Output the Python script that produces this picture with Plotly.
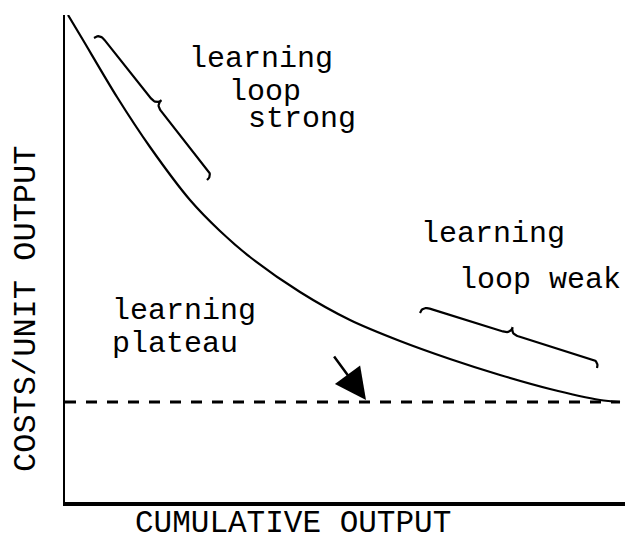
import plotly.graph_objects as go

# learning curve (arbitrary units, no tick labels)
cum_output = [3, 18, 52, 85, 125, 155, 185, 235, 285, 335, 385, 435, 485, 535, 555]
unit_cost = [487, 462, 405, 355, 302, 271, 245, 210, 182, 161, 143, 127, 113, 102, 100]

# learning plateau (dashed level)
plateau_x = [0, 555]
plateau_y = [100, 100]

FONT = "Liberation Mono, Courier New, monospace"


def quad(p0, c, p1, n=10):
    pts = []
    for i in range(n + 1):
        t = i / n
        x = (1 - t) ** 2 * p0[0] + 2 * (1 - t) * t * c[0] + t ** 2 * p1[0]
        y = (1 - t) ** 2 * p0[1] + 2 * (1 - t) * t * c[1] + t ** 2 * p1[1]
        pts.append((x, y))
    return pts


def brace(p0, p1, h=7, r=8):
    # curly brace between two end points, tip pointing to the left-hand normal
    dx, dy = p1[0] - p0[0], p1[1] - p0[1]
    ln = (dx * dx + dy * dy) ** 0.5
    ux, uy = dx / ln, dy / ln
    nx, ny = -uy, ux
    m = ((p0[0] + p1[0]) / 2, (p0[1] + p1[1]) / 2)

    def at(base, a, b):
        return (base[0] + a * ux + b * nx, base[1] + a * uy + b * ny)

    pts = quad(p0, at(p0, 0, h), at(p0, r, h))
    pts += quad(at(m, -r, h), at(m, 0, h), at(m, 0, 2 * h))
    pts += quad(at(m, 0, 2 * h), at(m, 0, h), at(m, r, h))
    pts += quad(at(p1, -r, h), at(p1, 0, h), p1)
    return [p[0] for p in pts], [p[1] for p in pts]


fig = go.Figure()

fig.add_trace(go.Scatter(x=cum_output, y=unit_cost, mode="lines",
                         line=dict(color="black", width=2.2, shape="spline", smoothing=0.8),
                         hoverinfo="skip"))
fig.add_trace(go.Scatter(x=plateau_x, y=plateau_y, mode="lines",
                         line=dict(color="black", width=3, dash="11px,10px"),
                         hoverinfo="skip"))

for a, b in [((29, 464), (142, 322)), ((355, 189), (532, 134))]:
    bx, by = brace(a, b)
    fig.add_trace(go.Scatter(x=bx, y=by, mode="lines",
                             line=dict(color="black", width=2.2),
                             hoverinfo="skip"))

labels = [
    ("learning", 122, 443), ("loop", 162, 410), ("strong", 181, 383),
    ("learning", 354, 268), ("loop weak", 392, 222),
    ("learning", 45, 191), ("plateau", 45, 158),
]
for txt, x, y in labels:
    fig.add_annotation(x=x, y=y, text=txt, showarrow=False, xanchor="left",
                       yanchor="middle", font=dict(family=FONT, size=30, color="black"))

# arrow pointing at the plateau
fig.add_annotation(x=301, y=102, ax=268, ay=147, axref="x", ayref="y",
                   text="", showarrow=True, arrowhead=2, arrowsize=2.5,
                   arrowwidth=2.5, arrowcolor="black")

fig.add_annotation(x=(292.5 - 65) / 568, y=(502 - 523) / 487, xref="paper", yref="paper",
                   text="CUMULATIVE OUTPUT", showarrow=False,
                   xanchor="center", yanchor="middle",
                   font=dict(family=FONT, size=31, color="black"))
fig.add_annotation(x=(26 - 65) / 568, y=(502 - 309) / 487, xref="paper", yref="paper",
                   text="COSTS/UNIT OUTPUT", showarrow=False, textangle=-90,
                   xanchor="center", yanchor="middle",
                   font=dict(family=FONT, size=32, color="black"))

# the page body has an 8px margin, so the figure is 8px smaller than the window
fig.update_layout(
    width=625, height=532,
    margin=dict(l=57, r=0, t=7, b=38),
    paper_bgcolor="white", plot_bgcolor="white",
    showlegend=False,
    xaxis=dict(range=[0, 568], showline=True, linewidth=3.5, linecolor="black",
               showgrid=False, zeroline=False, showticklabels=False, ticks=""),
    yaxis=dict(range=[0, 487], showline=True, linewidth=2, linecolor="black",
               showgrid=False, zeroline=False, showticklabels=False, ticks=""),
)

fig.write_html("out.html")
